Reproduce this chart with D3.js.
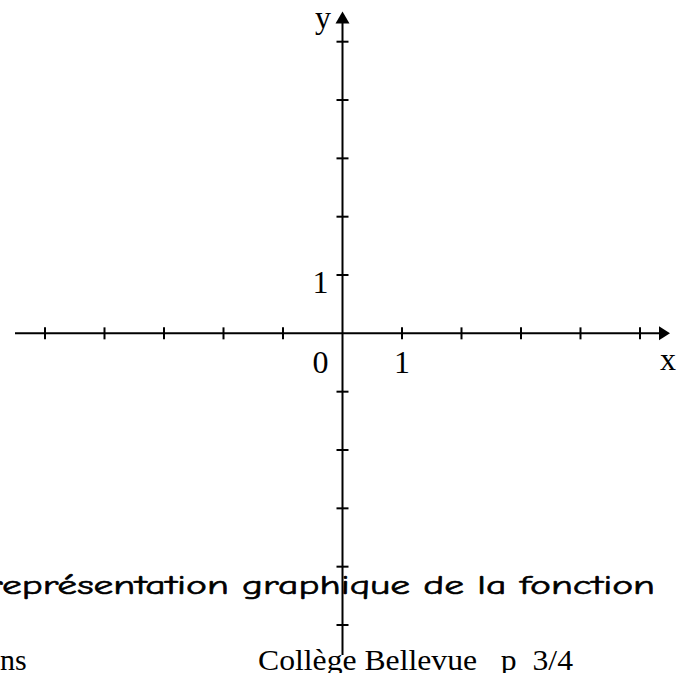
<!DOCTYPE html>
<html>
<head>
<meta charset="utf-8">
<script src="https://cdn.jsdelivr.net/npm/d3@7"></script>
<style>
  html, body { margin: 0; padding: 0; background: #fff; overflow: hidden; }
  svg { display: block; }
</style>
</head>
<body>
<svg id="chart" width="678" height="673"></svg>
<script>
// Graduations of the grid (units)
const xTicks = [-5, -4, -3, -2, -1, 1, 2, 3, 4, 5];
const yTicks = [-5, -4, -3, -2, -1, 1, 2, 3, 4, 5];
// Labelled graduations
const xLabels = [{ v: 0, t: "0" }, { v: 1, t: "1" }];
const yLabels = [{ v: 1, t: "1" }];
const axisNames = ["x", "y"];
// Text lines of the sheet
const captionLine = "représentation graphique de la fonction";
const footerLeft = "ns";
const footerRight = "Collège Bellevue   p  3/4";

const svg = d3.select("#chart");

const x = d3.scaleLinear().domain([-5, 5]).range([45, 640]);
const y = d3.scaleLinear().domain([-5, 5]).range([625, 41.7]);

const x0 = x(0), y0 = y(0);
const serif = "Liberation Serif, Times New Roman, Times, serif";
const black = "#000";

// Axes lines
svg.append("line")
  .attr("x1", 15).attr("x2", 662).attr("y1", y0).attr("y2", y0)
  .attr("stroke", black).attr("stroke-width", 2);
svg.append("line")
  .attr("x1", x0).attr("x2", x0).attr("y1", 655).attr("y2", 20)
  .attr("stroke", black).attr("stroke-width", 2);

// Arrow heads
svg.append("path")
  .attr("d", `M${670},${y0} L${659},${y0 - 7} L${659},${y0 + 7} Z`)
  .attr("fill", black);
svg.append("path")
  .attr("d", `M${x0},${11.5} L${x0 - 7},${23.5} L${x0 + 7},${23.5} Z`)
  .attr("fill", black);

// Tick marks
svg.append("g").selectAll("line").data(xTicks).join("line")
  .attr("x1", d => x(d)).attr("x2", d => x(d))
  .attr("y1", y0 - 6).attr("y2", y0 + 6)
  .attr("stroke", black).attr("stroke-width", 2);
svg.append("g").selectAll("line").data(yTicks).join("line")
  .attr("x1", x0 - 6).attr("x2", x0 + 6)
  .attr("y1", d => y(d)).attr("y2", d => y(d))
  .attr("stroke", black).attr("stroke-width", 2);

// Tick labels
svg.append("g").selectAll("text").data(xLabels).join("text")
  .attr("x", d => d.v === 0 ? x0 - 22 : x(d.v))
  .attr("y", 373)
  .attr("text-anchor", "middle")
  .attr("font-family", serif).attr("font-size", 32)
  .text(d => d.t);
svg.append("g").selectAll("text").data(yLabels).join("text")
  .attr("x", x0 - 22)
  .attr("y", d => y(d.v) + 18)
  .attr("text-anchor", "middle")
  .attr("font-family", serif).attr("font-size", 32)
  .text(d => d.t);

// Axis names
svg.append("text")
  .attr("x", 668).attr("y", 370)
  .attr("text-anchor", "middle")
  .attr("font-family", serif).attr("font-size", 32)
  .text(axisNames[0]);
svg.append("text")
  .attr("x", 323).attr("y", 28)
  .attr("text-anchor", "middle")
  .attr("font-family", serif).attr("font-size", 32)
  .text(axisNames[1]);

// Caption line (runs off the left edge of the sheet)
svg.append("text")
  .attr("x", -13).attr("y", 594)
  .attr("font-family", "Comic Sans MS, Comic Neue, Noto Sans, sans-serif")
  .attr("font-size", 27)
  .attr("stroke", black).attr("stroke-width", 0.6)
  .attr("textLength", 668)
  .attr("lengthAdjust", "spacingAndGlyphs")
  .text(captionLine);

// Footer
svg.append("text")
  .attr("x", 0).attr("y", 670)
  .attr("font-family", serif).attr("font-size", 30)
  .text(footerLeft);
svg.append("text")
  .attr("x", 258).attr("y", 670)
  .attr("font-family", serif).attr("font-size", 30)
  .attr("textLength", 315)
  .attr("lengthAdjust", "spacingAndGlyphs")
  .style("white-space", "pre")
  .text(footerRight);
</script>
</body>
</html>
